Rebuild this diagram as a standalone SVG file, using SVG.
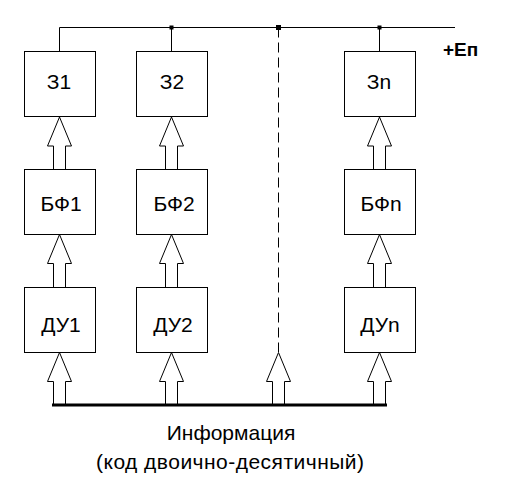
<svg xmlns="http://www.w3.org/2000/svg" width="506" height="497" viewBox="0 0 506 497">
<style>
.box{fill:#fff;stroke:#000;stroke-width:1}
.lbl{font-family:"Liberation Sans",Arial,sans-serif;font-size:21px;fill:#000;text-anchor:middle}
.w{fill:none;stroke:#000;stroke-width:1}
.arr{fill:#fff;stroke:#000;stroke-width:1}
</style>
<rect width="506" height="497" fill="#fff"/>
<g id="connectors">
<path class="w" d="M59.5 51.5V27.5H455"/>
<path class="w" d="M171.5 27.5V51.5"/>
<path class="w" d="M379.5 27.5V51.5"/>
<path class="w" d="M278.5 27.5V352" stroke-dasharray="10 5"/>
<rect x="169.5" y="25.5" width="4" height="4"/>
<rect x="276" y="25" width="5" height="5"/>
<rect x="377.5" y="25.5" width="4" height="4"/>
<path class="arr" d="M53.5 169.5V146H47.5L59.5 117L71.5 146H65.5V169.5"/>
<path class="arr" d="M165.5 169.5V146H159.5L171.5 117L183.5 146H177.5V169.5"/>
<path class="arr" d="M373.5 169.5V146H367.5L379.5 117L391.5 146H385.5V169.5"/>
<path class="arr" d="M53.5 287.5V263.5H47.5L59.5 234.5L71.5 263.5H65.5V287.5"/>
<path class="arr" d="M165.5 287.5V263.5H159.5L171.5 234.5L183.5 263.5H177.5V287.5"/>
<path class="arr" d="M373.5 287.5V263.5H367.5L379.5 234.5L391.5 263.5H385.5V287.5"/>
<path class="arr" d="M53.5 405V381.5H47.5L59.5 352.5L71.5 381.5H65.5V405"/>
<path class="arr" d="M165.5 405V381.5H159.5L171.5 352.5L183.5 381.5H177.5V405"/>
<path class="arr" d="M272.5 405V381.5H266.5L278.5 352.5L290.5 381.5H284.5V405"/>
<path class="arr" d="M373.5 405V381.5H367.5L379.5 352.5L391.5 381.5H385.5V405"/>
<path d="M52 405H387" stroke="#000" stroke-width="3"/>
</g>
<g id="z1"><rect class="box" x="24.5" y="51.5" width="71" height="65"/><text class="lbl" x="59" y="89">З1</text></g>
<g id="z2"><rect class="box" x="136.5" y="51.5" width="71" height="65"/><text class="lbl" x="172" y="89">З2</text></g>
<g id="zn"><rect class="box" x="344.5" y="51.5" width="71" height="65"/><text class="lbl" x="379" y="89">Зn</text></g>
<g id="bf1"><rect class="box" x="24.5" y="169.5" width="71" height="65"/><text class="lbl" x="61" y="211">БФ1</text></g>
<g id="bf2"><rect class="box" x="136.5" y="169.5" width="71" height="65"/><text class="lbl" x="174" y="211">БФ2</text></g>
<g id="bfn"><rect class="box" x="344.5" y="169.5" width="71" height="65"/><text class="lbl" x="381" y="211">БФn</text></g>
<g id="du1"><rect class="box" x="24.5" y="287.5" width="71" height="65"/><text class="lbl" x="61" y="332">ДУ1</text></g>
<g id="du2"><rect class="box" x="136.5" y="287.5" width="71" height="65"/><text class="lbl" x="173" y="332">ДУ2</text></g>
<g id="dun"><rect class="box" x="344.5" y="287.5" width="71" height="65"/><text class="lbl" x="380" y="332">ДУn</text></g>
<g id="ep"><text x="443" y="56" style="font-family:'Liberation Sans',Arial,sans-serif;font-size:19px;font-weight:bold">+Еп</text></g>
<g id="info"><text class="lbl" x="231" y="440">Информация</text><text class="lbl" x="230" y="469" textLength="268" lengthAdjust="spacing">(код двоично-десятичный)</text></g>
</svg>
